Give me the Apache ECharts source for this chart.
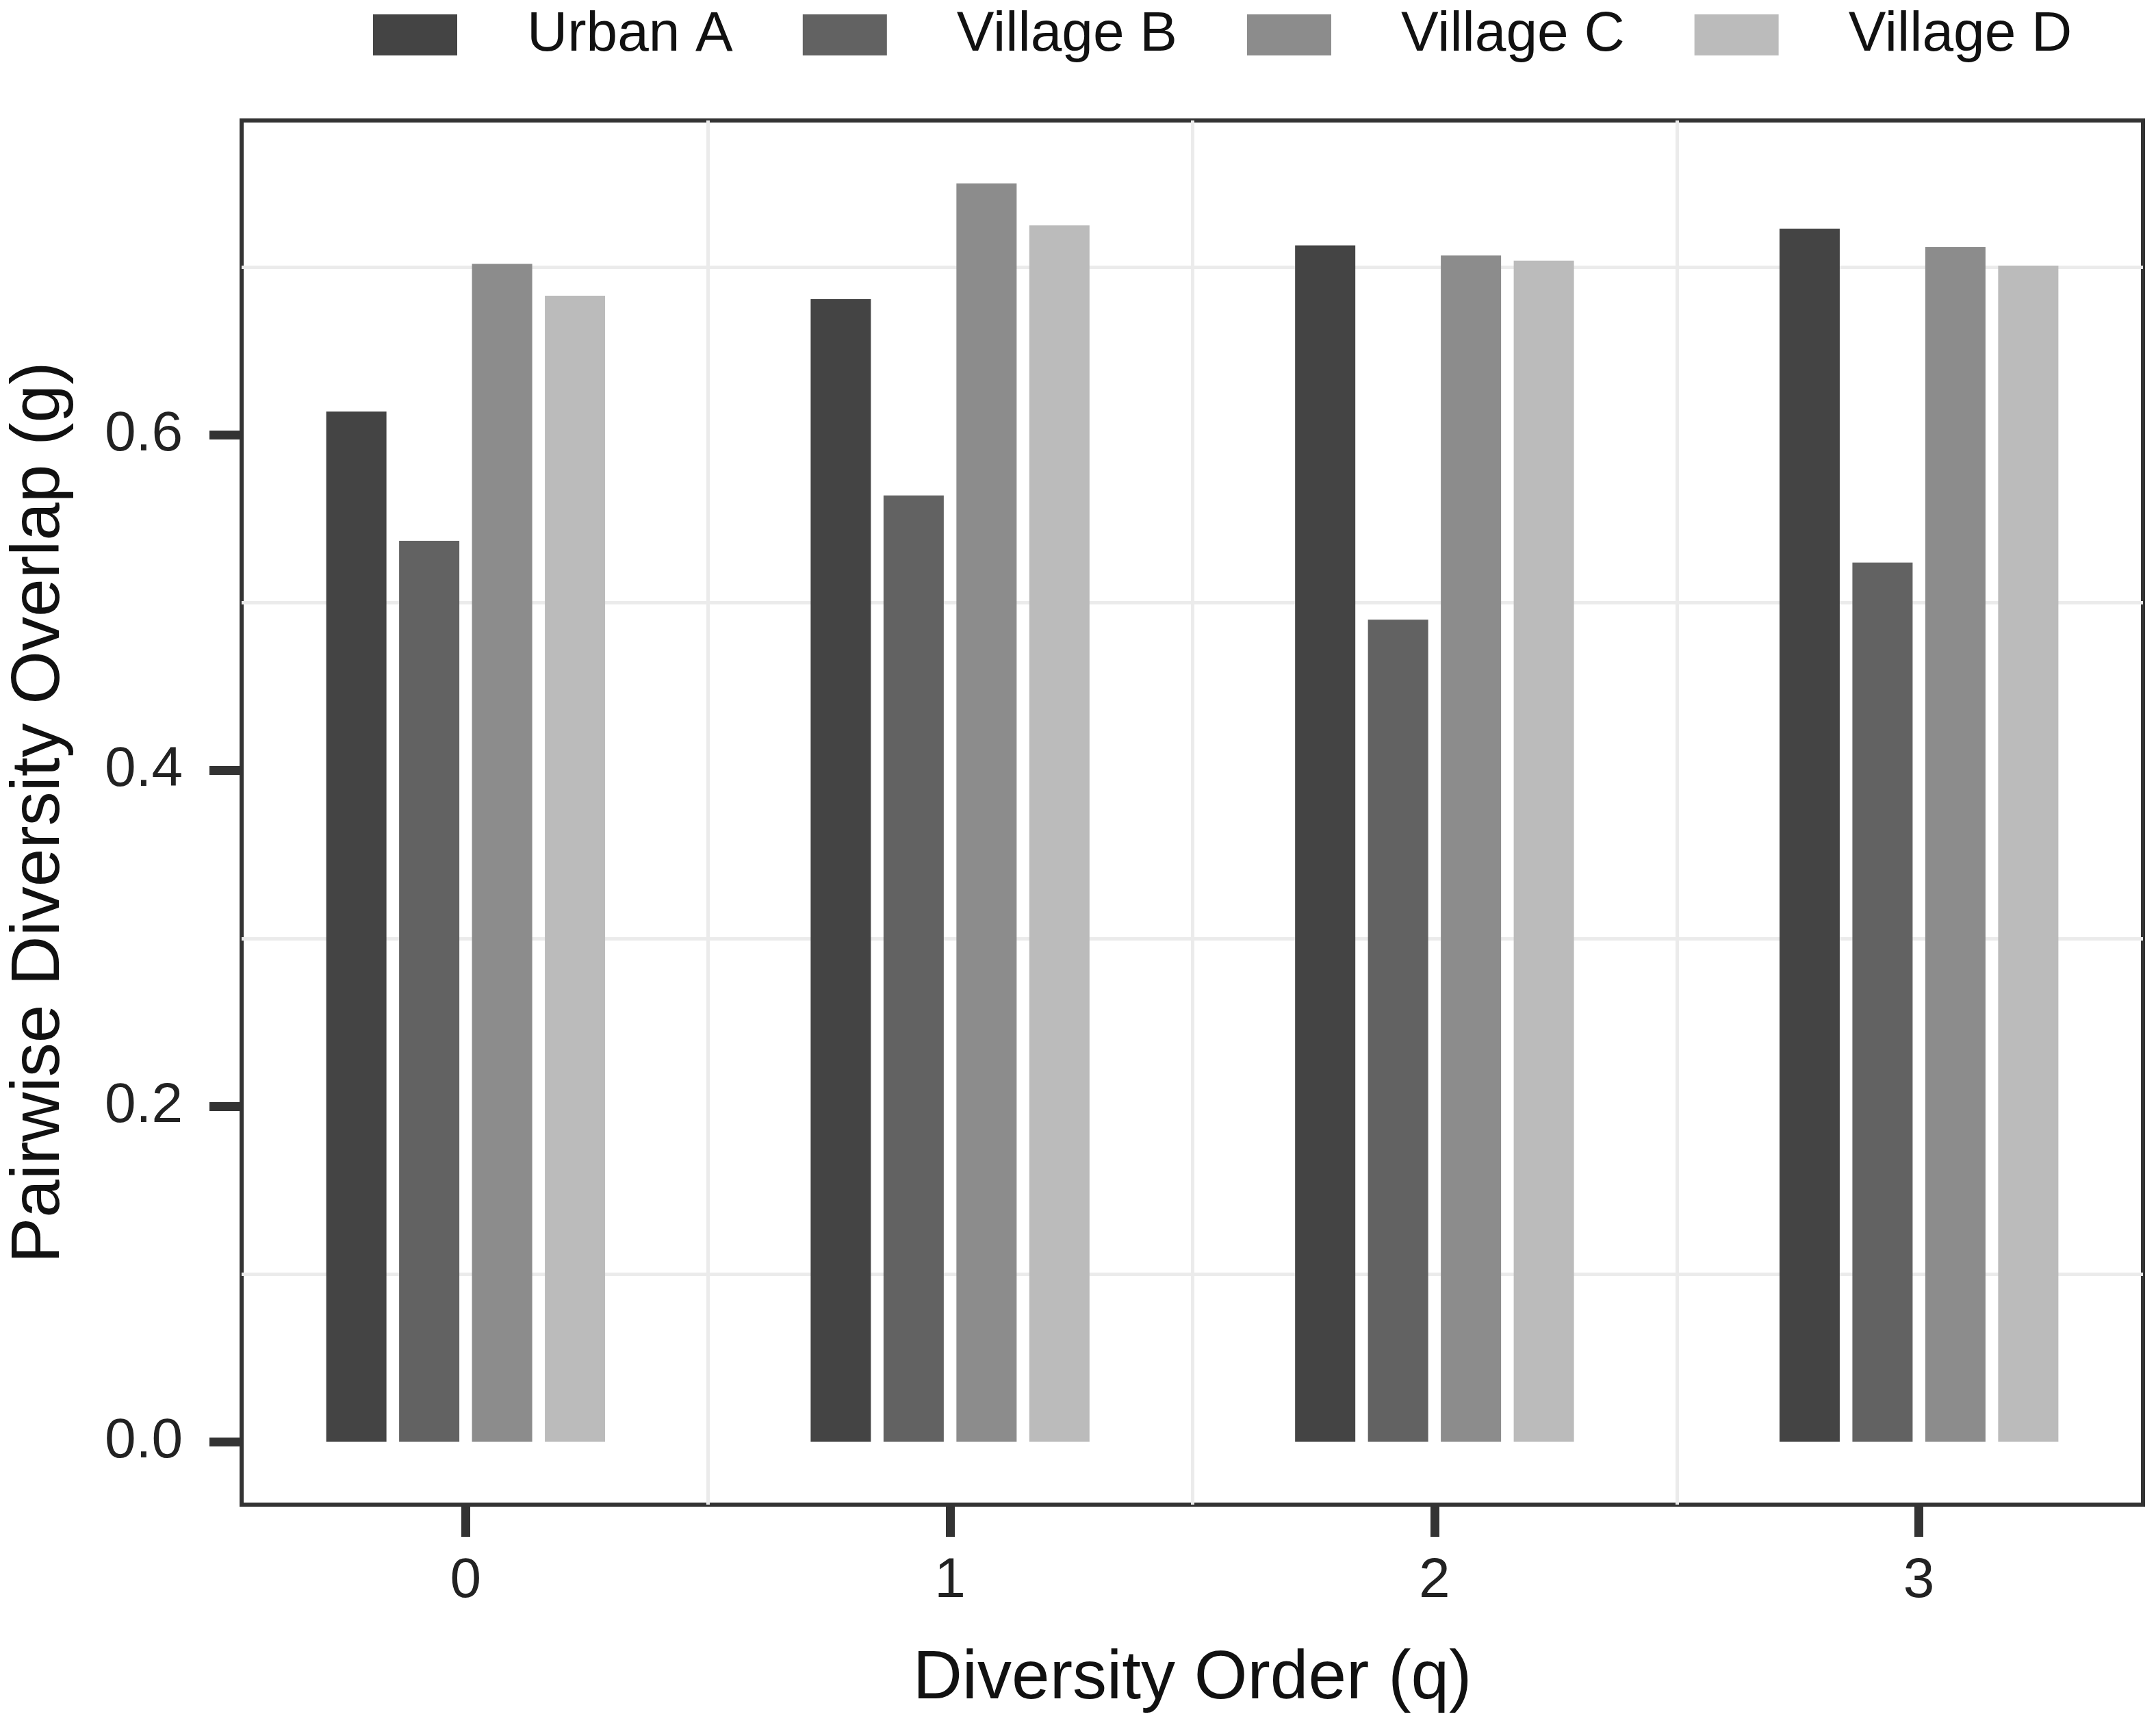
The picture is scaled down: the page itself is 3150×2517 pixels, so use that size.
<!doctype html>
<html lang="en">
<head>
    <meta charset="UTF-8">
    <title>Pairwise Diversity Overlap</title>
    <script src="https://cdn.jsdelivr.net/npm/echarts@6/dist/echarts.min.js"></script>
    <style>
        html, body { margin: 0; padding: 0; background: #fff; }
    </style>
</head>
<body>

<div id="main" style="width: 3150px;height:2517px;"></div>
<script type="text/javascript">

    // diversity order q (x positions)
    var orders = [0, 1, 2, 3];
    var seriesNames = ['Urban A', 'Village B', 'Village C', 'Village D'];

    var urbanA   = [0.614, 0.681, 0.713, 0.723];
    var villageB = [0.537, 0.564, 0.490, 0.524];
    var villageC = [0.702, 0.750, 0.707, 0.712];
    var villageD = [0.683, 0.725, 0.704, 0.701];

    var yTicks = [0, 0.2, 0.4, 0.6];
    var yGrid = [0.1, 0.3, 0.5, 0.7];
    var xGrid = [0.5, 1.5, 2.5];

    var colors = ['#444444', '#626262', '#8c8c8c', '#bbbbbb'];
    var font = '"Liberation Sans", Arial, Helvetica, sans-serif';

    function pairs(vals) {
        return orders.map(function (q, i) {
            return [q, vals[i]];
        });
    }

    var chart = echarts.init(document.getElementById('main'));

    var option = {
        backgroundColor: '#ffffff',
        textStyle: { fontFamily: font },
        animation: false,
        legend: {
            top: 5,
            left: 540,
            icon: 'rect',
            itemWidth: 123,
            itemHeight: 60,
            itemGap: 102,
            textStyle: {
                fontFamily: font,
                fontSize: 82,
                color: '#111',
                padding: [0, 0, 0, 97]
            },
            data: seriesNames
        },
        grid: {
            left: 352,
            top: 176,
            width: 2779,
            height: 2022,
            show: true,
            borderColor: '#333333',
            borderWidth: 6,
            containLabel: false
        },
        xAxis: [
            {
                type: 'value',
                min: -0.4625,
                max: 3.4625,
                position: 'bottom',
                name: 'Diversity Order (q)',
                nameLocation: 'middle',
                nameGap: 205,
                nameTextStyle: { fontFamily: font, fontSize: 100, color: '#111' },
                axisLine: { show: false, onZero: false },
                axisTick: {
                    show: true,
                    customValues: orders,
                    length: 47,
                    lineStyle: { color: '#333333', width: 13 }
                },
                axisLabel: {
                    customValues: orders,
                    margin: 71,
                    fontFamily: font,
                    fontSize: 82,
                    color: '#222'
                },
                splitLine: { show: false }
            },
            {
                type: 'value',
                min: -0.4625,
                max: 3.4625,
                position: 'top',
                axisLine: { show: false, onZero: false },
                axisTick: { show: false, customValues: xGrid },
                axisLabel: { show: false, customValues: xGrid },
                splitLine: { show: true, lineStyle: { color: '#ebebeb', width: 5 } }
            }
        ],
        yAxis: [
            {
                type: 'value',
                min: -0.0375,
                max: 0.7875,
                position: 'left',
                name: 'Pairwise Diversity Overlap (g)',
                nameLocation: 'middle',
                nameGap: 245,
                nameRotate: 90,
                nameTextStyle: { fontFamily: font, fontSize: 100, color: '#111' },
                axisLine: { show: false, onZero: false },
                axisTick: {
                    show: true,
                    customValues: yTicks,
                    length: 47,
                    lineStyle: { color: '#333333', width: 13 }
                },
                axisLabel: {
                    customValues: yTicks,
                    margin: 86,
                    fontFamily: font,
                    fontSize: 82,
                    color: '#222',
                    formatter: function (v) { return v.toFixed(1); }
                },
                splitLine: { show: false }
            },
            {
                type: 'value',
                min: -0.0375,
                max: 0.7875,
                position: 'right',
                axisLine: { show: false, onZero: false },
                axisTick: { show: false, customValues: yGrid },
                axisLabel: { show: false, customValues: yGrid },
                splitLine: { show: true, lineStyle: { color: '#ebebeb', width: 5 } }
            }
        ],
        series: [
            { name: 'Urban A',   type: 'bar', data: pairs(urbanA),   barWidth: 88, barGap: '21%', itemStyle: { color: colors[0] } },
            { name: 'Village B', type: 'bar', data: pairs(villageB), barWidth: 88, barGap: '21%', itemStyle: { color: colors[1] } },
            { name: 'Village C', type: 'bar', data: pairs(villageC), barWidth: 88, barGap: '21%', itemStyle: { color: colors[2] } },
            { name: 'Village D', type: 'bar', data: pairs(villageD), barWidth: 88, barGap: '21%', itemStyle: { color: colors[3] } }
        ]
    };

    chart.setOption(option);

</script>
</body>
</html>
